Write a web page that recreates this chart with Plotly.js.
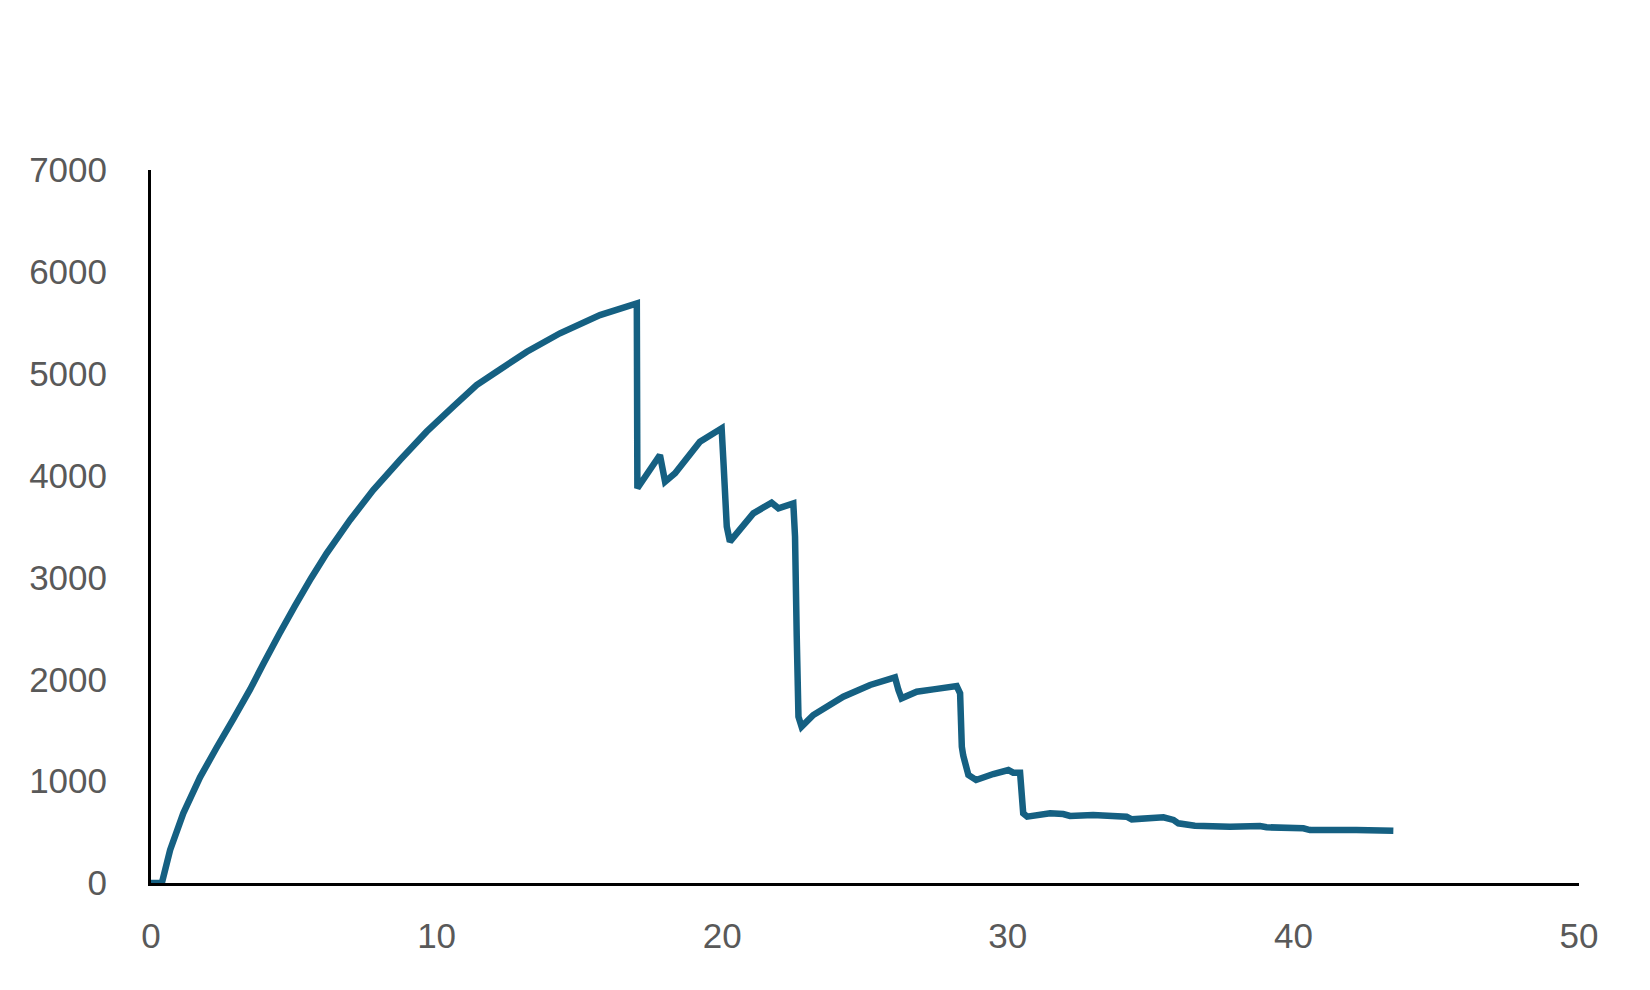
<!DOCTYPE html>
<html>
<head>
<meta charset="utf-8">
<script src="https://cdn.plot.ly/plotly-3.0.1.min.js"></script>
<style>html,body{margin:0;padding:0;background:#fff;}#chart{width:1650px;height:990px;}</style>
</head>
<body>
<div id="chart"></div>
<script>
const xValues = [0, 0.38, 0.67, 1.13, 1.72, 2.30, 2.88, 3.47, 3.93, 4.5, 5.04, 5.6, 6.15, 6.97, 7.78, 8.72, 9.65, 10.58, 11.40, 12.10, 13.16, 14.32, 15.72, 17.01,
  17.03, 17.82, 18.0, 18.35, 19.22, 19.98, 20.05, 20.16, 20.27, 21.09, 21.73, 21.97, 22.49,
  22.55, 22.61, 22.67, 22.78, 23.19, 24.24, 25.18, 26.05, 26.17, 26.28, 26.81, 27.39, 28.21,
  28.33, 28.39, 28.44, 28.62, 28.89, 29.49, 30.02, 30.19, 30.43, 30.54, 30.68, 31.48, 31.94, 32.18,
  32.99, 34.16, 34.34, 35.45, 35.80, 35.97, 36.55, 37.78, 38.83, 39.06, 40.35, 40.58, 42.2, 43.5];
const yValues = [0, 0, 324, 684, 1040, 1330, 1610, 1900, 2150, 2450, 2720, 2990, 3236, 3564, 3858, 4153, 4431, 4676, 4889, 5020, 5216, 5397, 5576, 5691,
  3875, 4202, 3940, 4022, 4332, 4464, 4100, 3500, 3351, 3629, 3734, 3678, 3727,
  3400, 2418, 1633, 1535, 1649, 1829, 1944, 2019, 1895, 1813, 1878, 1901, 1934,
  1862, 1338, 1250, 1060, 1011, 1070, 1109, 1083, 1083, 684, 651, 684, 677, 658,
  668, 651, 625, 645, 619, 586, 563, 553, 560, 547, 537, 520, 520, 512];
const xTicks = [0, 10, 20, 30, 40, 50];
const yTicks = [0, 1000, 2000, 3000, 4000, 5000, 6000, 7000];

const trace = {
  x: xValues, y: yValues, type: 'scatter', mode: 'lines',
  line: {color: '#156082', width: 6.5, shape: 'linear', simplify: false},
  hoverinfo: 'skip'
};
const tickFont = {family: '"Liberation Sans", Arial, sans-serif', size: 35, color: '#595959'};
const layout = {
  width: 1650, height: 990,
  margin: {l: 151, r: 71, t: 170, b: 107},
  paper_bgcolor: '#ffffff', plot_bgcolor: '#ffffff',
  showlegend: false,
  xaxis: {
    range: [0, 50], tickvals: xTicks, ticktext: xTicks.map(String),
    showgrid: false, zeroline: false, showline: true, linecolor: '#000000', linewidth: 3,
    ticks: '', ticklabelstandoff: 20, tickfont: tickFont, fixedrange: true
  },
  yaxis: {
    range: [0, 7000], tickvals: yTicks, ticktext: yTicks.map(String),
    showgrid: false, zeroline: false, showline: true, linecolor: '#000000', linewidth: 3,
    ticks: '', ticklabelstandoff: 34, tickfont: tickFont, fixedrange: true
  }
};
Plotly.newPlot('chart', [trace], layout, {displayModeBar: false, staticPlot: true});
</script>
</body>
</html>
